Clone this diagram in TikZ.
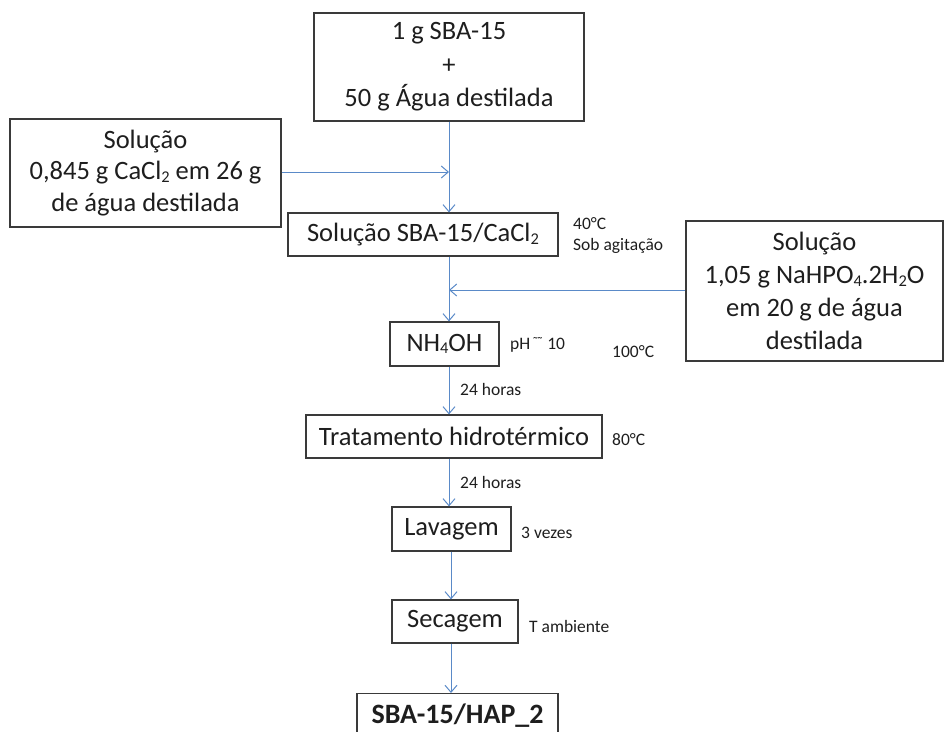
\documentclass[tikz,border=0pt]{standalone}
\usepackage{fontspec}
\setmainfont{Carlito}
\usetikzlibrary{arrows.meta}
\definecolor{boxline}{HTML}{3A3A3A}
\definecolor{txt}{HTML}{1E1E1E}
\definecolor{arr}{HTML}{5A8AC8}
\newcommand{\lowr}[1]{\raisebox{-0.1em}{\scalebox{0.62}{#1}}}
\begin{document}
\begin{tikzpicture}[x=1pt,y=-1pt,
  stepbox/.style={draw=boxline,line width=1.2pt,text=txt,inner sep=0pt,
    font=\fontsize{26.5}{32}\selectfont,align=center},
  note/.style={text=txt,inner sep=0pt,anchor=west,font=\fontsize{17.5}{22}\selectfont,align=left},
  flow/.style={draw=arr,line width=1pt,-{Straight Barb[length=7pt,width=12pt,line width=1pt]}}]
\useasboundingbox (0,0) rectangle (945,731);
\clip (0,0) rectangle (945,731);
% boxes
\node[stepbox,minimum width=270pt,minimum height=108pt,font=\fontsize{26.5}{33.5}\selectfont] (top) at (449,67)
  {1 g SBA-15\\+\\50 g Água destilada};
\node[stepbox,minimum width=271pt,minimum height=108pt,font=\fontsize{26.5}{31.5}\selectfont] (left) at (145.5,173)
  {Solução\\0,845 g CaCl\lowr{2} em 26 g\\de água destilada};
\node[stepbox,minimum width=270pt,minimum height=43pt] (sol) at (423,234.5)
  {Solução SBA-15/CaCl\lowr{2}};
\node[stepbox,minimum width=257pt,minimum height=140pt,font=\fontsize{26.5}{33}\selectfont] (right) at (814.5,291)
  {Solução\\1,05 g NaHPO\lowr{4}.2H\lowr{2}O\\em 20 g de água\\destilada};
\node[stepbox,minimum width=109pt,minimum height=44pt] (nh) at (444.5,344)
  {NH\lowr{4}OH};
\node[stepbox,minimum width=296pt,minimum height=43pt] (trat) at (454,436.5)
  {Tratamento hidrotérmico};
\node[stepbox,minimum width=119pt,minimum height=44pt] (lav) at (451.5,529)
  {Lavagem};
\node[stepbox,minimum width=126pt,minimum height=43pt] (sec) at (455,621.5)
  {Secagem};
\node[stepbox,minimum width=201pt,minimum height=70pt,anchor=north] (fin) at (457.5,693)
  {};
\node[text=txt,inner sep=0pt,font=\bfseries\fontsize{28}{32}\selectfont] (fintxt) at (457.5,716) {SBA-15/HAP\_2};
% notes
\node[note] (n40) at (573,224) {40°C};
\node[note] (nsob) at (573,246) {Sob agitação};
\node[note] (nph) at (510,345) {pH\kern0.1em\raisebox{0.2ex}{\fontsize{15}{15}\selectfont\symbol{"02DC}\kern-0.15em\symbol{"02DC}} 10};
\node[note] (n100) at (612,352) {100°C};
\node[note] (n24a) at (460,389) {24 horas};
\node[note] (n80) at (612,440) {80°C};
\node[note] (n24b) at (460,482) {24 horas};
\node[note] (n3) at (521,533) {3 vezes};
\node[note] (namb) at (529,626) {T ambiente};
% junction coordinates
\coordinate (j1) at (449,172);
\coordinate (j2) at (449,290);
\coordinate (k) at (451,0);
% connectors
\draw[flow] (top.south -| j1) -- (sol.north -| j1);
\draw[flow] (left.east |- j1) -- (j1);
\draw[flow] (sol.south -| j1) -- (nh.north -| j1);
\draw[flow] (right.west |- j2) -- (j2);
\draw[flow] (nh.south -| j1) -- (trat.north -| j1);
\draw[flow] (trat.south -| j1) -- (lav.north -| j1);
\draw[flow] (lav.south -| k) -- (sec.north -| k);
\draw[flow] (sec.south -| k) -- (fin.north -| k);
\end{tikzpicture}
\end{document}
